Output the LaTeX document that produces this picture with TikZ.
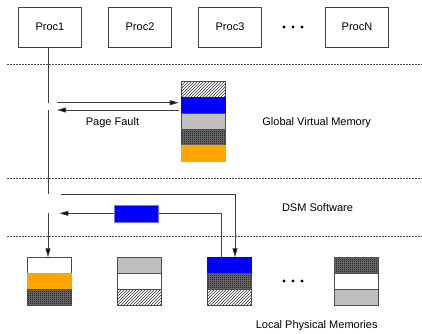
\documentclass[tikz,border=0pt]{standalone}
\usepackage{fontspec}
\setmainfont{Liberation Sans}
\usetikzlibrary{arrows.meta,patterns}

\definecolor{pageorange}{RGB}{255,165,0}

% fine checkerboard used for the dark "mixed" pages
\pgfdeclarepatternformonly{finecheck}{\pgfpointorigin}{\pgfqpoint{2pt}{2pt}}{\pgfqpoint{2pt}{2pt}}{%
  \pgfpathrectangle{\pgfpointorigin}{\pgfqpoint{1pt}{1pt}}%
  \pgfpathrectangle{\pgfqpoint{1pt}{1pt}}{\pgfqpoint{1pt}{1pt}}%
  \pgfusepath{fill}}

% thin diagonal hatching
\pgfdeclarepatternformonly{finehatch}{\pgfqpoint{-1pt}{-1pt}}{\pgfqpoint{4pt}{4pt}}{\pgfqpoint{3pt}{3pt}}{%
  \pgfsetlinewidth{0.5pt}%
  \pgfpathmoveto{\pgfqpoint{0pt}{0pt}}%
  \pgfpathlineto{\pgfqpoint{3.1pt}{3.1pt}}%
  \pgfusepath{stroke}}

\tikzset{
  proc/.style={draw=black!75, line width=0.8pt, minimum width=63pt, minimum height=40pt,
    inner sep=0pt, font=\fontsize{11}{13}\selectfont},
  cell/.style={minimum width=44pt, minimum height=16pt, inner sep=0pt, outer sep=0pt,
    line width=0.9pt},
  cellwhite/.style={cell, draw=black!70, fill=white},
  cellgray/.style={cell, draw=black!70, fill=black!25},
  cellhatch/.style={cell, draw=black!70, preaction={fill=white}, pattern=finehatch, pattern color=black!80},
  cellcheck/.style={cell, draw=black!70, preaction={fill=black!55}, pattern=finecheck},
  cellblue/.style={cell, draw=blue, fill=blue},
  cellorange/.style={cell, draw=pageorange, fill=pageorange},
  sep/.style={black!70, line width=0.6pt, dash pattern=on 1.5pt off 1.5pt},
  link/.style={black!75, line width=0.8pt},
  arr/.style={link, -{Triangle[length=9pt,width=5pt,fill=black]}},
  lbl/.style={font=\fontsize{11}{13}\selectfont, inner sep=0pt},
  dotmark/.style={circle, fill=black, inner sep=0pt, minimum size=3.4pt},
}

\begin{document}
\begin{tikzpicture}[x=1pt, y=-1pt]
  \useasboundingbox (0,0) rectangle (422,333);

  % processors
  \node[proc] (p1) at (50,27) {Proc1};
  \node[proc] (p2) at (140,27) {Proc2};
  \node[proc] (p3) at (230,27) {Proc3};
  \node[proc] (pn) at (357,27) {ProcN};
  \node[dotmark] (d1) at (284,27) {};
  \node[dotmark] (d2) at (293,27) {};
  \node[dotmark] (d3) at (302,27) {};

  % layer separators
  \draw[sep] (7,64.5) -- (422,64.5);
  \draw[sep] (7,178) -- (422,178);
  \draw[sep] (7,236) -- (422,236);

  % global virtual memory pages
  \node[cellhatch]  (g1) at (203.7,89.7) {};
  \node[cellblue]   (g2) at (203.7,105.7) {};
  \node[cellgray]   (g3) at (203.7,121.7) {};
  \node[cellcheck]  (g4) at (203.7,137.7) {};
  \node[cellorange] (g5) at (203.7,153.7) {};

  % local physical memories
  \node[cellwhite]  (a1) at (49.5,265.3) {};
  \node[cellorange] (a2) at (49.5,281.3) {};
  \node[cellcheck]  (a3) at (49.5,297.3) {};

  \node[cellgray]   (b1) at (139.5,265.3) {};
  \node[cellwhite]  (b2) at (139.5,281.3) {};
  \node[cellhatch]  (b3) at (139.5,297.3) {};

  \node[cellblue]   (c1) at (229,265.3) {};
  \node[cellcheck]  (c2) at (229,281.3) {};
  \node[cellhatch]  (c3) at (229,297.3) {};

  \node[cellcheck]  (e1) at (356,265.3) {};
  \node[cellwhite]  (e2) at (356,281.3) {};
  \node[cellgray]   (e3) at (356,297.3) {};

  \node[dotmark] (m1) at (284,281) {};
  \node[dotmark] (m2) at (293,281) {};
  \node[dotmark] (m3) at (302,281) {};

  % labels
  \node[lbl] (tpf)  at (112.5,123) {Page Fault};
  \node[lbl] (tgvm) at (316.7,122.7) {Global Virtual Memory};
  \node[lbl] (tdsm) at (317.5,207.7) {DSM Software};
  \node[lbl] (tlpm) at (316.7,326) {Local Physical Memories};

  % access path of Proc1
  \coordinate (v1) at (48,102.7);
  \coordinate (v2) at (48,109.5);
  \coordinate (v3) at (48,194);
  \coordinate (v4) at (48,213);
  \coordinate (pfa) at (57,102.7);
  \coordinate (pfb) at (57,110);
  \coordinate (dsa) at (61,194.7);
  \coordinate (dsb) at (59.3,213.3);
  \coordinate (fetch) at (235,194.7);
  \coordinate (send) at (221.7,213.3);

  \draw[link] (p1.south -| v1) -- (v1);
  \draw[arr, shorten >=3pt] (pfa) -- (pfa -| g2.west);
  \draw[arr, shorten <=2.5pt] (pfb -| g2.west) -- (pfb);
  \draw[link] (v2) -- (v3);
  \draw[arr] (dsa) -- (fetch) -- (fetch |- c1.north);
  \draw[arr] (send |- c1.north) -- (send) -- (dsb);
  \draw[arr] (v4) -- (v4 |- a1.north);

  % page in transit
  \node[cell, draw=blue!55, fill=blue, minimum height=17pt] (pg) at (136.3,213.8) {};
\end{tikzpicture}
\end{document}
